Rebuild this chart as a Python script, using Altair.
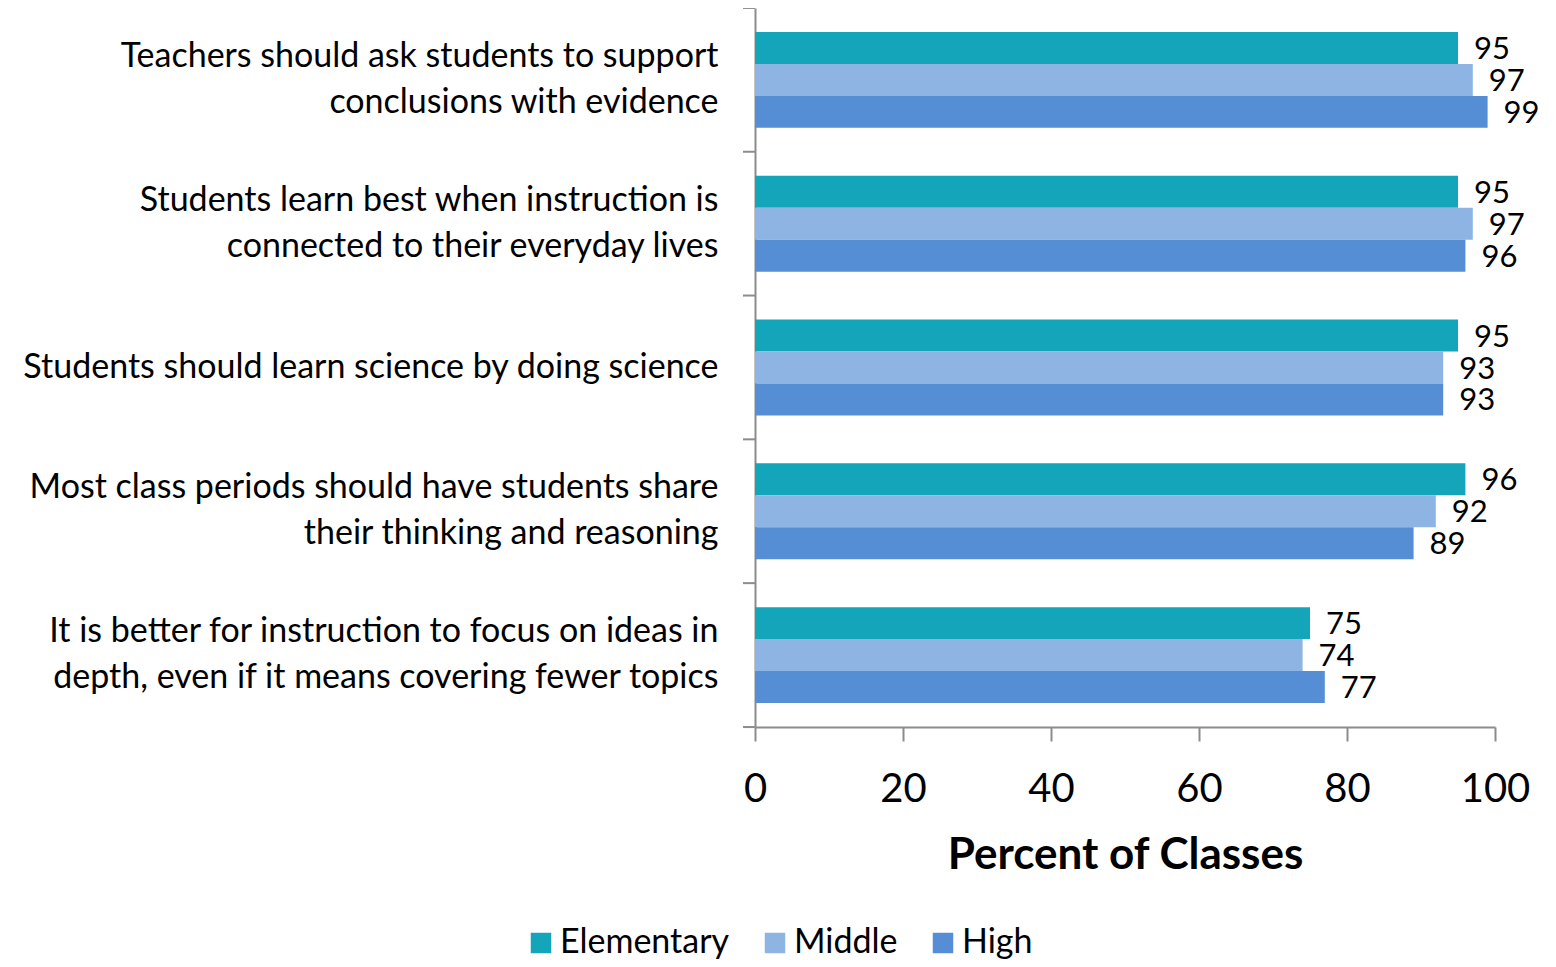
import altair as alt
import pandas as pd

categories = [
    "Teachers should ask students to support|conclusions with evidence",
    "Students learn best when instruction is|connected to their everyday lives",
    "Students should learn science by doing science",
    "Most class periods should have students share|their thinking and reasoning",
    "It is better for instruction to focus on ideas in|depth, even if it means covering fewer topics",
]
series = ["Elementary", "Middle", "High"]
elementary = [95, 95, 95, 96, 75]
middle = [97, 97, 93, 92, 74]
high = [99, 96, 93, 89, 77]
colors = ["#14A5BA", "#8EB4E3", "#558ED5"]

rows = []
for i, c in enumerate(categories):
    for s, vals in zip(series, [elementary, middle, high]):
        rows.append({"cat": c, "series": s, "value": vals[i]})
df = pd.DataFrame(rows)
cat_df = pd.DataFrame({"cat": categories})

FONT = "Lato"
AXIS_GREY = "#8c8c8c"
Y_SCALE = alt.Scale(paddingInner=0.333, paddingOuter=0.1665)

y_enc = alt.Y(
    "cat:N",
    sort=categories,
    title=None,
    scale=Y_SCALE,
    axis=alt.Axis(
        labelExpr="split(datum.label, '|')",
        labelFont=FONT,
        labelFontSize=34,
        labelColor="black",
        labelLineHeight=46,
        labelPadding=37,
        labelLimit=1000,
        labelOffset={"condition": {"test": "indexof(datum.value, '|') >= 0", "value": -23}, "value": 0},
        ticks=False,
        domainColor=AXIS_GREY,
        domainWidth=2,
    ),
)

x_enc = alt.X(
    "value:Q",
    scale=alt.Scale(domain=[0, 100], nice=False),
    axis=alt.Axis(
        values=[0, 20, 40, 60, 80, 100],
        title="Percent of Classes",
        titleFont=FONT,
        titleFontSize=44,
        titleFontWeight="bold",
        titleColor="black",
        titlePadding=24,
        labelFont=FONT,
        labelFontSize=40,
        labelColor="black",
        labelPadding=28,
        labelFlush=False,
        tickSize=14,
        tickColor=AXIS_GREY,
        tickWidth=2,
        domainColor=AXIS_GREY,
        domainWidth=2,
        grid=False,
    ),
)

base = alt.Chart(df).encode(
    y=y_enc,
    yOffset=alt.YOffset("series:N", sort=series, scale=alt.Scale(paddingInner=0, paddingOuter=0)),
)

bars = base.mark_bar().encode(
    x=x_enc,
    color=alt.Color(
        "series:N",
        sort=series,
        scale=alt.Scale(domain=series, range=colors),
        legend=alt.Legend(
            title=None,
            orient="none",
            direction="horizontal",
            legendX=-231,
            legendY=918,
            symbolType="square",
            symbolSize=420,
            symbolStrokeWidth=0,
            labelFont=FONT,
            labelFontSize=34,
            labelLimit=400,
            labelColor="black",
            columnPadding=28,
            labelOffset=2,
        ),
    ),
)

labels = base.mark_text(align="left", baseline="middle", dx=16, dy=2, font=FONT, fontSize=31, color="black").encode(
    x="value:Q",
    text="value:Q",
)

# y-axis tick marks at the boundaries between category groups
ticks_top = alt.Chart(cat_df).mark_rule(color=AXIS_GREY, strokeWidth=2, yOffset=-24).encode(
    y=alt.Y("cat:N", sort=categories, bandPosition=0, scale=Y_SCALE),
    x=alt.value(-12),
    x2=alt.value(0),
)
ticks_bottom = (
    alt.Chart(cat_df)
    .transform_filter(alt.datum.cat == categories[-1])
    .mark_rule(color=AXIS_GREY, strokeWidth=2, yOffset=24)
    .encode(
        y=alt.Y("cat:N", sort=categories, bandPosition=1, scale=Y_SCALE),
        x=alt.value(-12),
        x2=alt.value(0),
    )
)

chart = (
    alt.layer(bars, labels, ticks_top, ticks_bottom)
    .properties(
        width=740,
        height=719,
        autosize=alt.AutoSizeParams(type="none"),
        padding={"left": 747, "top": 0, "right": 53, "bottom": 232},
    )
    .configure_view(stroke=None)
)

chart.save("out.html", embed_options={"renderer": "svg", "actions": False})
